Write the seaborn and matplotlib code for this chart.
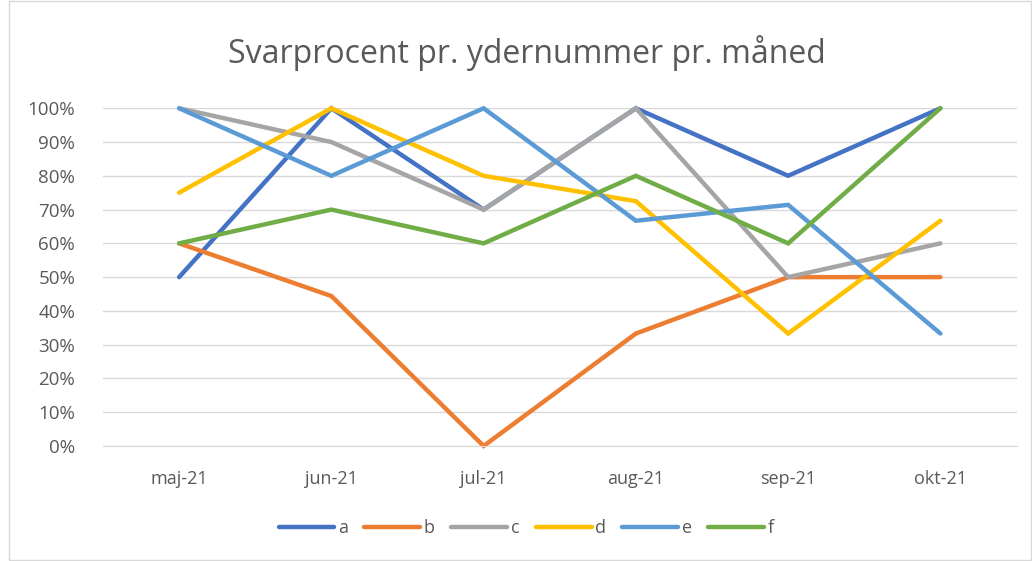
import pandas as pd
import matplotlib.pyplot as plt
import matplotlib.patches as mpatches
from matplotlib.ticker import PercentFormatter, FixedLocator
import seaborn as sns

# Data
months = ["maj-21", "jun-21", "jul-21", "aug-21", "sep-21", "okt-21"]
series_names = ["a", "b", "c", "d", "e", "f"]
a = [0.50, 1.00, 0.70, 1.00, 0.80, 1.00]
b = [0.60, 0.444, 0.00, 0.333, 0.50, 0.50]
c = [1.00, 0.90, 0.70, 1.00, 0.50, 0.60]
d = [0.75, 1.00, 0.80, 0.725, 0.333, 0.667]
e = [1.00, 0.80, 1.00, 0.667, 0.714, 0.333]
f = [0.60, 0.70, 0.60, 0.80, 0.60, 1.00]
colors = ["#4472C4", "#ED7D31", "#A5A5A5", "#FFC000", "#5B9BD5", "#70AD47"]

rows = []
for name, vals in zip(series_names, [a, b, c, d, e, f]):
    for i, v in enumerate(vals):
        rows.append({"month": i, "value": v, "series": name})
df = pd.DataFrame(rows)

sns.set_style("white")
plt.rcParams["font.family"] = ["Open Sans", "DejaVu Sans"]
text_color = "#595959"

fig = plt.figure(figsize=(10.32, 5.61), dpi=100)
ax = fig.add_axes([0.0998, 0.205, 0.8852, 0.602])

sns.lineplot(data=df, x="month", y="value", hue="series",
             palette=dict(zip(series_names, colors)), linewidth=3.2,
             ax=ax, legend=True, solid_capstyle="round", solid_joinstyle="miter")

ax.set_xlim(-0.5, 5.5)
ax.set_ylim(0, 1.0)
ax.set_yticks([i / 10 for i in range(11)])
ax.yaxis.set_major_formatter(PercentFormatter(1.0, decimals=0))
ax.set_xticks(range(len(months)))
ax.set_xticklabels(months)
ax.xaxis.set_minor_locator(FixedLocator([i - 0.5 for i in range(len(months) + 1)]))
ax.tick_params(axis="x", which="major", length=0, pad=17, labelsize=13, labelcolor=text_color)
ax.tick_params(axis="x", which="minor", length=7, color="#D9D9D9", width=1)
ax.tick_params(axis="y", length=0, labelsize=13.5, labelcolor=text_color, pad=20)
ax.grid(axis="y", color="#D9D9D9", linewidth=1)
ax.set_axisbelow(True)
for side in ["top", "right", "left"]:
    ax.spines[side].set_visible(False)
ax.spines["bottom"].set_color("#D9D9D9")
ax.set_xlabel("")
ax.set_ylabel("")
for line in ax.get_lines():
    line.set_clip_on(False)

fig.text(0.511, 0.905, "Svarprocent pr. ydernummer pr. måned", ha="center", va="center",
         fontsize=23, color=text_color)

handles, labels = ax.get_legend_handles_labels()
ax.get_legend().remove()
leg = fig.legend(handles, labels, loc="center", bbox_to_anchor=(0.51, 0.058), ncol=6,
                 frameon=False, fontsize=13, handlelength=3.1, handletextpad=0.2,
                 columnspacing=0.9, labelcolor=text_color)
for h in leg.legend_handles:
    h.set_linewidth(3.2)
    h.set_solid_capstyle("round")

fig.patches.append(mpatches.Rectangle((0.009, 0.002), 0.99, 0.996, transform=fig.transFigure,
                                      fill=False, edgecolor="#D9D9D9", linewidth=1))

fig.savefig("out.png", dpi=100)
